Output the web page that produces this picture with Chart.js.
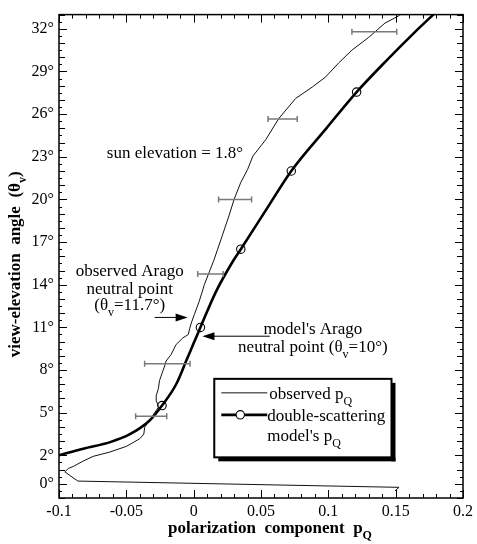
<!DOCTYPE html>
<html><head><meta charset="utf-8">
<script src="https://cdn.jsdelivr.net/npm/chart.js@4"></script>
<style>html,body{margin:0;padding:0;background:#fff;} canvas{display:block}</style>
</head><body>
<canvas id="c" width="477" height="544"></canvas>
<script>
// ---- data ----
const obsX = [0.1495, 0.1525, -0.0860, -0.0957, -0.0930, -0.0894, -0.0820, -0.0746, -0.0623, -0.0500,
  -0.0400, -0.0370, -0.0364, -0.0327, -0.0315, -0.0290, -0.0262, -0.0275, -0.0278, -0.0262,
  -0.0254, -0.0229, -0.0215, -0.0205, -0.0167, -0.0130, -0.0081, -0.0040, -0.0030, -0.0018,
  0.0005, 0.0040, 0.0060, 0.0079, 0.0116, 0.0153, 0.0178, 0.0214, 0.0264, 0.0300,
  0.0350, 0.0400, 0.0440, 0.0535, 0.0633, 0.0757, 0.0880, 0.0978, 0.1077, 0.1175,
  0.1300, 0.1420, 0.1520, 0.1570];
const obsY = [-0.50, -0.25, 0.19, 0.84, 1.08, 1.22, 1.60, 1.93, 2.23, 2.63,
  3.17, 3.50, 3.98, 4.45, 4.63, 5.00, 5.37, 5.80, 6.19, 6.70,
  7.24, 7.93, 8.30, 8.63, 9.10, 9.80, 10.25, 10.50, 10.90, 11.30,
  11.90, 12.80, 13.40, 14.00, 14.90, 15.80, 16.50, 17.50, 18.90, 20.00,
  21.20, 22.10, 23.05, 24.20, 25.70, 27.10, 27.90, 28.60, 29.60, 30.50,
  31.40, 32.40, 32.90, 33.30];
const modelX = [-0.100, -0.082, -0.062, -0.048, -0.0327, -0.0235, -0.013, -0.0056, 0.0005, 0.0050,
  0.0165, 0.0288, 0.0350, 0.0540, 0.0725, 0.0985, 0.1210, 0.1435, 0.1635, 0.1825];
const modelY = [2.0, 2.47, 2.93, 3.45, 4.45, 5.5, 7.0, 8.63, 10.0, 11.0,
  13.5, 15.6, 16.5, 19.3, 22.0, 25.0, 27.55, 29.8, 31.7, 33.4];
const circleX = [-0.0235, 0.0050, 0.0350, 0.0725, 0.1210];
const circleY = [5.5, 11.0, 16.5, 22.0, 27.55];
const errY  = [4.75, 8.45, 14.75, 20.0, 25.66, 31.8];
const errLo = [-0.0431, -0.0364, 0.0030, 0.0185, 0.0552, 0.1175];
const errHi = [-0.0200, -0.0027, 0.0219, 0.0430, 0.0769, 0.1508];
const xTickVals = [-0.1, -0.05, 0, 0.05, 0.1, 0.15, 0.2];
const xTickLabels = ['-0.1', '-0.05', '0', '0.05', '0.1', '0.15', '0.2'];
const yTickVals = [0, 2, 5, 8, 11, 14, 17, 20, 23, 26, 29, 32];
const yTickLabels = ['0°', '2°', '5°', '8°', '11°', '14°', '17°', '20°', '23°', '26°', '29°', '32°'];

const F = '"Liberation Serif","Times New Roman",serif';

function rich(ctx, parts, x, y, align, size, bold) {
  const fw = bold ? 'bold ' : '';
  const big = fw + size + 'px ' + F, small = fw + Math.round(size * 0.72) + 'px ' + F;
  let w = 0;
  parts.forEach(p => { ctx.font = p[1] ? small : big; w += ctx.measureText(p[0]).width; });
  let cx = align === 'center' ? x - w / 2 : (align === 'right' ? x - w : x);
  ctx.textAlign = 'left'; ctx.textBaseline = 'alphabetic'; ctx.fillStyle = '#000';
  parts.forEach(p => {
    ctx.font = p[1] ? small : big;
    ctx.fillText(p[0], cx, y + (p[1] ? size * 0.35 : 0));
    cx += ctx.measureText(p[0]).width;
  });
}
function arrow(ctx, x1, y1, x2, y2) {
  ctx.save();
  ctx.strokeStyle = '#000'; ctx.fillStyle = '#000'; ctx.lineWidth = 1;
  const a = Math.atan2(y2 - y1, x2 - x1), L = 12, H = 4;
  ctx.beginPath(); ctx.moveTo(x1, y1); ctx.lineTo(x2 - L * 0.7 * Math.cos(a), y2 - L * 0.7 * Math.sin(a)); ctx.stroke();
  ctx.beginPath();
  ctx.moveTo(x2, y2);
  ctx.lineTo(x2 - L * Math.cos(a) + H * Math.sin(a), y2 - L * Math.sin(a) - H * Math.cos(a));
  ctx.lineTo(x2 - L * Math.cos(a) - H * Math.sin(a), y2 - L * Math.sin(a) + H * Math.cos(a));
  ctx.closePath(); ctx.fill();
  ctx.restore();
}

const deco = {
  id: 'deco',
  afterDatasetsDraw(chart) {
    const ctx = chart.ctx, ca = chart.chartArea;
    const xs = chart.scales.x, ys = chart.scales.y;
    const X = v => xs.getPixelForValue(v), Y = v => ys.getPixelForValue(v);
    ctx.save();
    // error bars
    ctx.strokeStyle = '#7a7a7a'; ctx.lineWidth = 1.5;
    errY.forEach((yv, i) => {
      const y = Y(yv), a = X(errLo[i]), b = X(errHi[i]);
      ctx.beginPath();
      ctx.moveTo(a, y); ctx.lineTo(b, y);
      ctx.moveTo(a, y - 3); ctx.lineTo(a, y + 3);
      ctx.moveTo(b, y - 3); ctx.lineTo(b, y + 3);
      ctx.stroke();
    });
    // frame
    ctx.strokeStyle = '#000'; ctx.lineWidth = 1.5;
    ctx.strokeRect(ca.left, ca.top, ca.right - ca.left, ca.bottom - ca.top);
    // inside ticks
    ctx.lineWidth = 1;
    ctx.beginPath();
    for (let k = -10; k <= 20; k++) {
      const v = k / 100, px = Math.round(X(v)) + 0.5;
      const len = (k % 5 === 0) ? 8 : 4;
      ctx.moveTo(px, ca.bottom); ctx.lineTo(px, ca.bottom - len);
      ctx.moveTo(px, ca.top); ctx.lineTo(px, ca.top + len);
    }
    for (let k = -2; k <= 66; k++) {
      const v = k / 2, py = Math.round(Y(v)) + 0.5;
      let len = (k % 2 === 0) ? 6 : 3;
      if (yTickVals.includes(v)) len = 8;
      ctx.moveTo(ca.left, py); ctx.lineTo(ca.left + len, py);
      ctx.moveTo(ca.right, py); ctx.lineTo(ca.right - len, py);
    }
    ctx.stroke();
    ctx.restore();

    // annotations
    rich(ctx, [['sun elevation = 1.8°', 0]], X(-0.0645), Y(22.93), 'left', 17);
    rich(ctx, [['observed Arago', 0]], X(-0.0475), Y(14.6), 'center', 17);
    rich(ctx, [['neutral point', 0]], X(-0.0475), Y(13.38), 'center', 17);
    rich(ctx, [['(θ', 0], ['v', 1], ['=11.7°)', 0]], X(-0.0475), Y(12.2), 'center', 17);
    arrow(ctx, X(-0.029), Y(11.7), X(-0.0045), Y(11.7));
    rich(ctx, [["model's Arago", 0]], X(0.0885), Y(10.5), 'center', 17);
    rich(ctx, [['neutral point (θ', 0], ['v', 1], ['=10°)', 0]], X(0.0885), Y(9.3), 'center', 17);
    arrow(ctx, X(0.0565), Y(10.38), X(0.0065), Y(10.38));

    // legend box
    const L = X(0.0153), R = X(0.1469), T = Y(7.38), B = Y(1.86);
    ctx.save();
    ctx.fillStyle = '#fff'; ctx.fillRect(L, T, R - L, B - T);
    ctx.strokeStyle = '#000'; ctx.lineWidth = 2;
    ctx.strokeRect(L, T, R - L, B - T);
    ctx.fillStyle = '#000';
    ctx.fillRect(L + 4, B, R - L, 4);
    ctx.fillRect(R, T + 4, 4, B - T);
    ctx.lineWidth = 1; ctx.strokeStyle = '#111';
    ctx.beginPath(); ctx.moveTo(L + 7, T + 14); ctx.lineTo(L + 53, T + 14); ctx.stroke();
    ctx.lineWidth = 2.6; ctx.strokeStyle = '#000';
    ctx.beginPath(); ctx.moveTo(L + 7, T + 36); ctx.lineTo(L + 53, T + 36); ctx.stroke();
    ctx.lineWidth = 1.1; ctx.fillStyle = '#fff';
    ctx.beginPath(); ctx.arc(L + 26, T + 36, 4.2, 0, Math.PI * 2); ctx.fill(); ctx.stroke();
    ctx.restore();
    rich(ctx, [['observed p', 0], ['Q', 1]], L + 55, T + 20, 'left', 17);
    rich(ctx, [['double-scattering', 0]], L + 53, T + 42, 'left', 17);
    rich(ctx, [["model's p", 0], ['Q', 1]], L + 53, T + 62, 'left', 17);

    // axis titles
    rich(ctx, [['polarization  component  p', 0], ['Q', 1]], (ca.left + ca.right) / 2 + 9, 533, 'center', 17, true);
    ctx.save();
    ctx.translate(20, (ca.top + ca.bottom) / 2 + 8);
    ctx.rotate(-Math.PI / 2);
    rich(ctx, [['view-elevation  angle  (θ', 0], ['v', 1], [')', 0]], 0, 0, 'center', 17, true);
    ctx.restore();
  }
};

const pts = (xa, ya) => xa.map((x, i) => ({ x: x, y: ya[i] }));

new Chart(document.getElementById('c'), {
  type: 'scatter',
  data: {
    datasets: [
      { label: 'observed pQ', data: pts(obsX, obsY), showLine: true, borderColor: '#111', borderWidth: 1,
        pointRadius: 0, tension: 0 },
      { label: "double-scattering model's pQ", data: pts(modelX, modelY), showLine: true, borderColor: '#000',
        borderWidth: 2.6, pointRadius: 0, cubicInterpolationMode: 'monotone' },
      { label: 'model markers', data: pts(circleX, circleY), showLine: false, pointRadius: 4.2,
        pointBorderWidth: 1.1, pointBorderColor: '#000', pointBackgroundColor: 'rgba(0,0,0,0)' }
    ]
  },
  options: {
    responsive: false, animation: false, devicePixelRatio: 1,
    layout: { padding: { top: 10, right: 12, left: 0, bottom: 0 } },
    plugins: { legend: { display: false }, tooltip: { enabled: false } },
    scales: {
      x: {
        type: 'linear', min: -0.1, max: 0.2,
        afterBuildTicks: s => { s.ticks = xTickVals.map(v => ({ value: v })); },
        afterFit: s => { s.height = 46; },
        ticks: { callback: (v, i) => xTickLabels[i], font: { family: F, size: 16 }, color: '#000',
          padding: 4, maxRotation: 0, autoSkip: false },
        grid: { display: false, drawTicks: false }, border: { display: false }
      },
      y: {
        type: 'linear', min: -1, max: 33,
        afterBuildTicks: s => { s.ticks = yTickVals.map(v => ({ value: v })); },
        afterFit: s => { s.width = 59; },
        ticks: { callback: (v, i) => yTickLabels[i], font: { family: F, size: 16 }, color: '#000',
          padding: 5, autoSkip: false },
        grid: { display: false, drawTicks: false }, border: { display: false }
      }
    }
  },
  plugins: [deco]
});
</script>
</body></html>
